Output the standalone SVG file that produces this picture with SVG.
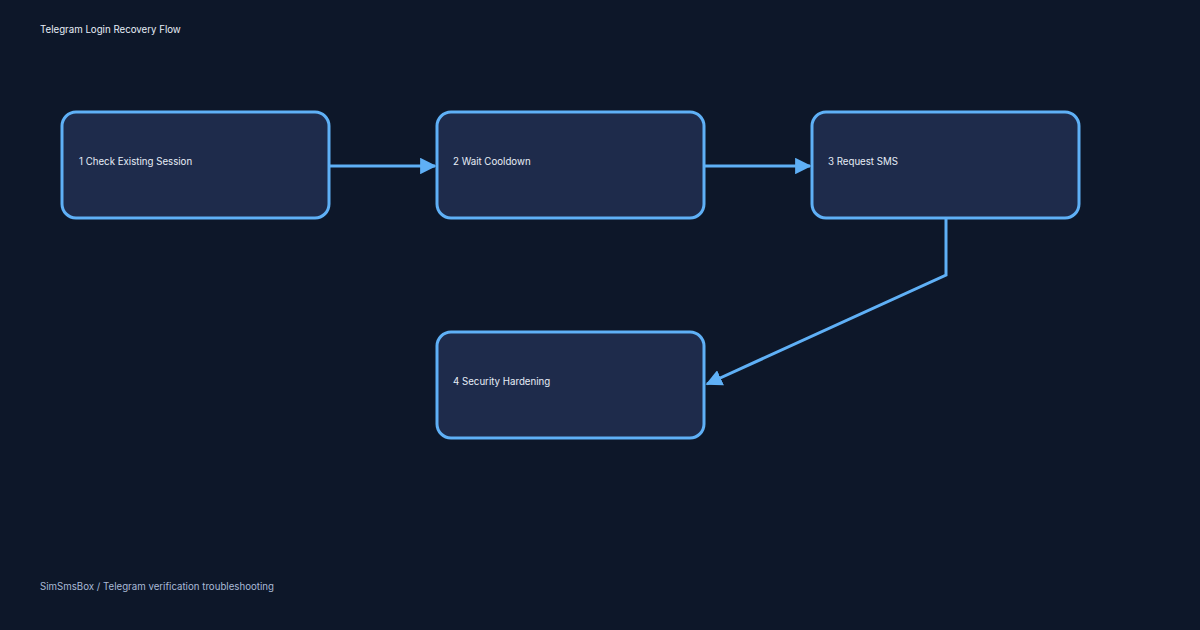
<svg xmlns="http://www.w3.org/2000/svg" width="1200" height="630" viewBox="0 0 1200 630">
<defs>
<style>
.node rect{fill:#1e2b4b;stroke:#5fb0f6;stroke-width:3}
.node text{fill:#e6edf7;font-family:Inter,"Liberation Sans",sans-serif;font-size:9.7px}
.edge{fill:none;stroke:#5fb0f6;stroke-width:3}
.title{fill:#e6edf7;font-family:Inter,"Liberation Sans",sans-serif;font-size:9.7px}
.foot{fill:#a9bad6;font-family:Inter,"Liberation Sans",sans-serif;font-size:9.7px}
</style>
<marker id="ah" viewBox="0 0 10 10" refX="9" refY="5" markerWidth="5.5" markerHeight="5.5" markerUnits="strokeWidth" orient="auto">
<path d="M0,0 L10,5 L0,10 z" fill="#5fb0f6"/>
</marker>
</defs>
<rect width="1200" height="630" fill="#0d1729"/>
<text class="title" x="40" y="33">Telegram Login Recovery Flow</text>
<g id="connectors">
<path class="edge" d="M330,166 L435,166" marker-end="url(#ah)"/>
<path class="edge" d="M705,166 L810,166" marker-end="url(#ah)"/>
<path class="edge" d="M946,219 L946,275 L707,384" marker-end="url(#ah)"/>
</g>
<g id="node1" class="node"><rect x="62" y="112" width="267" height="106" rx="14"/><text x="79" y="165">1 Check Existing Session</text></g>
<g id="node2" class="node"><rect x="437" y="112" width="267" height="106" rx="14"/><text x="453" y="165">2 Wait Cooldown</text></g>
<g id="node3" class="node"><rect x="812" y="112" width="267" height="106" rx="14"/><text x="828" y="165">3 Request SMS</text></g>
<g id="node4" class="node"><rect x="437" y="332" width="267" height="106" rx="14"/><text x="453" y="385">4 Security Hardening</text></g>
<text class="foot" x="40" y="590">SimSmsBox / Telegram verification troubleshooting</text>
</svg>
